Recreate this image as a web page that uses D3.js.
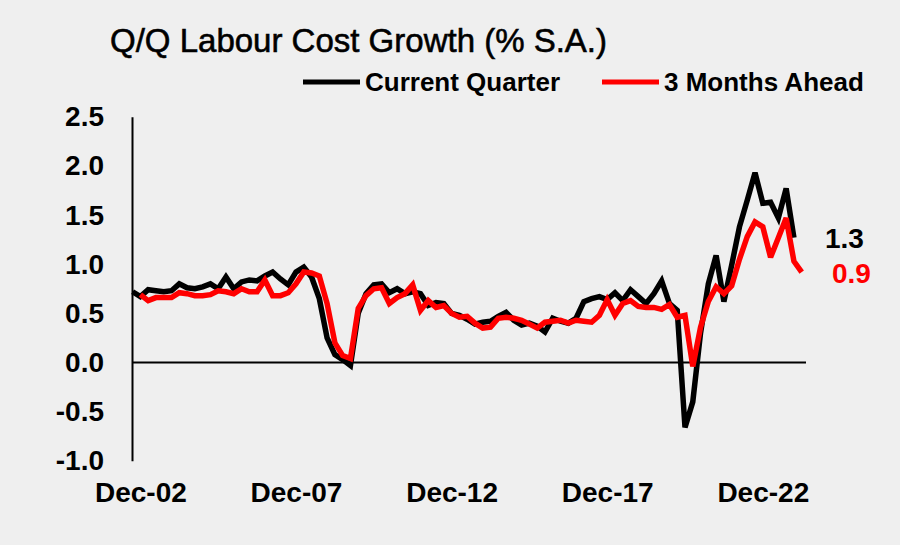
<!DOCTYPE html>
<html>
<head>
<meta charset="utf-8">
<script src="https://cdn.jsdelivr.net/npm/d3@7"></script>
<style>
  body { margin: 0; background: #efefef; }
  text { font-family: "Liberation Sans", Arial, sans-serif; }
</style>
</head>
<body>
<div id="chart"></div>
<script>
// quarterly series, black starts Sep-02, red (3 months ahead) starts Dec-02
const currentQuarter = [
  0.72, 0.67, 0.74, 0.73, 0.72, 0.73, 0.80, 0.76, 0.75, 0.77,
  0.80, 0.75, 0.87, 0.75, 0.82, 0.84, 0.83, 0.88, 0.92, 0.85,
  0.79, 0.92, 0.97, 0.87, 0.65, 0.25, 0.08, 0.03, -0.03, 0.50,
  0.70, 0.79, 0.80, 0.71, 0.75, 0.70, 0.72, 0.70, 0.58, 0.61,
  0.60, 0.50, 0.48, 0.44, 0.39, 0.41, 0.42, 0.47, 0.51, 0.43,
  0.38, 0.40, 0.37, 0.31, 0.45, 0.42, 0.40, 0.45, 0.62, 0.65,
  0.67, 0.64, 0.71, 0.63, 0.74, 0.67, 0.60, 0.70, 0.83, 0.60,
  0.53, -0.66, -0.40, 0.30, 0.80, 1.09, 0.62, 0.99, 1.38, 1.65,
  1.93, 1.62, 1.63, 1.47, 1.77, 1.27
];
const monthsAhead = [
  0.69, 0.63, 0.66, 0.66, 0.66, 0.71, 0.70, 0.68, 0.68, 0.69,
  0.73, 0.72, 0.70, 0.75, 0.72, 0.72, 0.84, 0.68, 0.68, 0.71,
  0.80, 0.92, 0.91, 0.88, 0.60, 0.20, 0.07, 0.04, 0.55, 0.68,
  0.75, 0.76, 0.60, 0.66, 0.70, 0.79, 0.53, 0.63, 0.56, 0.58,
  0.50, 0.46, 0.47, 0.40, 0.35, 0.36, 0.45, 0.46, 0.45, 0.43,
  0.39, 0.35, 0.41, 0.42, 0.43, 0.40, 0.43, 0.42, 0.41, 0.48,
  0.64, 0.48, 0.60, 0.63, 0.57, 0.56, 0.56, 0.54, 0.59, 0.46,
  0.48, -0.04, 0.36, 0.62, 0.77, 0.70, 0.78, 1.05, 1.28, 1.43,
  1.38, 1.07, 1.27, 1.47, 1.03, 0.92
];
const yTicks = [-1.0, -0.5, 0.0, 0.5, 1.0, 1.5, 2.0, 2.5];
const xTickLabels = ['Dec-02', 'Dec-07', 'Dec-12', 'Dec-17', 'Dec-22'];
const seriesNames = ['Current Quarter', '3 Months Ahead'];
const seriesColors = ['#000000', '#ff0000'];

const width = 900, height = 545;
const fmtQ = d3.timeFormat('%b-%y');
const firstQuarter = new Date(2002, 8, 1);
const quarters = d3.range(currentQuarter.length + 1)
  .map(i => fmtQ(d3.timeMonth.offset(firstQuarter, 3 * i)));

const svg = d3.select('#chart').append('svg')
  .attr('width', width)
  .attr('height', height)
  .style('background-color', '#efefef');

const x = d3.scalePoint().domain(quarters).range([132.6, 801.7]);
const y = d3.scaleLinear().domain([-1, 2.5]).range([460.8, 116.75]);

// title
svg.append('text')
  .attr('x', 110).attr('y', 52)
  .attr('textLength', 497).attr('lengthAdjust', 'spacingAndGlyphs')
  .style('font-family', '"Liberation Sans Narrow", "Liberation Sans", sans-serif')
  .style('font-size', '34px')
  .attr('fill', '#000')
  .attr('stroke', '#000').attr('stroke-width', 0.6)
  .text('Q/Q Labour Cost Growth (% S.A.)');

// legend
const legendX = [303, 602];
seriesNames.forEach((name, i) => {
  svg.append('line')
    .attr('x1', legendX[i]).attr('x2', legendX[i] + 57)
    .attr('y1', 82).attr('y2', 82)
    .attr('stroke', seriesColors[i]).attr('stroke-width', 5);
  svg.append('text')
    .attr('x', legendX[i] + 62).attr('y', 91)
    .style('font-size', '26px').style('font-weight', 700)
    .attr('fill', '#000')
    .text(name);
});

// y axis
const yAxis = svg.append('g')
  .attr('transform', 'translate(132,0)')
  .call(d3.axisLeft(y).tickValues(yTicks).tickSize(0).tickSizeOuter(0)
    .tickPadding(28).tickFormat(v => v.toFixed(1)));
yAxis.select('.domain').attr('stroke', '#000').attr('stroke-width', 2);
yAxis.selectAll('text')
  .style('font-size', '28px').style('font-weight', 700)
  .attr('fill', '#000');

// zero line
svg.append('line')
  .attr('x1', 132).attr('x2', 806)
  .attr('y1', y(0)).attr('y2', y(0))
  .attr('stroke', '#000').attr('stroke-width', 2);

// x axis labels
const xAxis = svg.append('g')
  .attr('transform', 'translate(0,472)')
  .call(d3.axisBottom(x).tickValues(xTickLabels).tickSize(0).tickPadding(10));
xAxis.select('.domain').remove();
xAxis.selectAll('text')
  .style('font-size', '28px').style('font-weight', 700)
  .attr('fill', '#000');

// lines
const line = d3.line().x(d => x(d.q)).y(d => y(d.v));
const black = currentQuarter.map((v, i) => ({ q: quarters[i], v }));
const red = monthsAhead.map((v, i) => ({ q: quarters[i + 1], v }));

[black, red].forEach((data, i) => {
  svg.append('path')
    .datum(data)
    .attr('fill', 'none')
    .attr('stroke', seriesColors[i])
    .attr('stroke-width', 5.5)
    .attr('stroke-linejoin', 'miter')
    .attr('stroke-miterlimit', 3)
    .attr('d', line);
});

// end value labels
svg.append('text')
  .attr('x', 825).attr('y', 248)
  .style('font-size', '28px').style('font-weight', 700)
  .attr('fill', '#000')
  .text(currentQuarter[currentQuarter.length - 1].toFixed(1));
svg.append('text')
  .attr('x', 832).attr('y', 283)
  .style('font-size', '28px').style('font-weight', 700)
  .attr('fill', '#ff0000')
  .text(monthsAhead[monthsAhead.length - 1].toFixed(1));
</script>
</body>
</html>
